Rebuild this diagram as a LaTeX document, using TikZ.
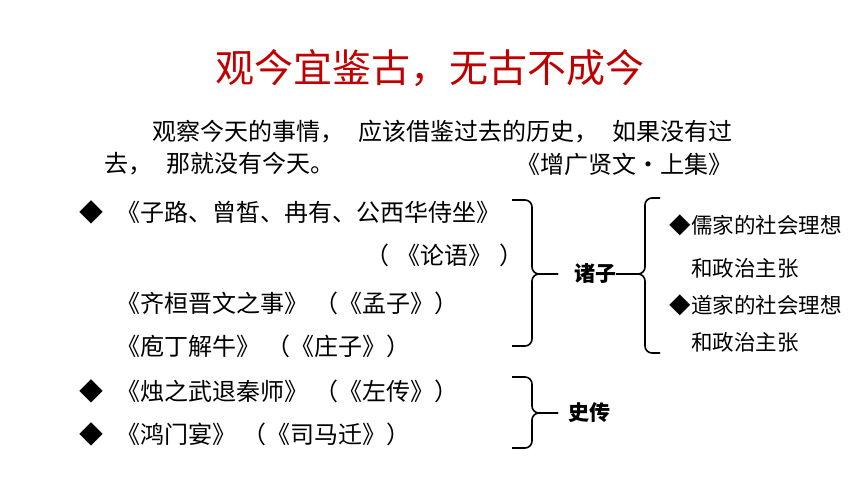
\documentclass[tikz,border=0pt]{standalone}
\usepackage{fontspec}
\usepackage{xcolor}
\newfontfamily\cjk{Noto Sans CJK SC}[Kerning=Off]
\definecolor{titlered}{RGB}{192,0,0}
\newcommand{\pgap}{\hspace{.6em}}
\newcommand{\lgap}{\hspace{.25em}}

\begin{document}
\begin{tikzpicture}[x=1pt, y=-1pt,
  txt/.style={anchor=west, inner sep=0pt, font=\cjk\fontsize{24}{24}\selectfont},
  small/.style={anchor=west, inner sep=0pt, font=\cjk\fontsize{21.5}{21.5}\selectfont},
  head/.style={inner sep=0pt, font=\cjk\bfseries\fontsize{21}{21}\selectfont},
  bracepath/.style={line width=1.6pt, rounded corners=7pt}]
\useasboundingbox (0,0) rectangle (860,484);
%%%%% Title %%%%%
\node[inner sep=0pt, text=titlered, font=\cjk\fontsize{39}{39}\selectfont] (title) at (430,68) {观今宜鉴古，无古不成今};
\node[txt] (para1) at (152,132) {观察今天的事情，\pgap 应该借鉴过去的历史，\pgap 如果没有过};
\node[txt] (para2) at (104,164) {去，\pgap 那就没有今天。};
\node[txt, anchor=east] (src) at (733,164) {《增广贤文·上集》};
%%%%% Left list %%%%%
\foreach \y in {212,391,434}{
\node[txt, anchor=center] (dl\y) at (91,\y) {◆};
}
\node[txt] (r1) at (116,212) {《子路、曾皙、冉有、公西华侍坐》};
\node[txt] (r2) at (365,255) {（\hspace{.3em}《论语》\hspace{.3em}）};
\node[txt] (r3) at (116,303) {《齐桓晋文之事》\lgap（《孟子》）};
\node[txt] (r4) at (116,346) {《庖丁解牛》\lgap（《庄子》）};
\node[txt] (r5) at (116,391) {《烛之武退秦师》\lgap（《左传》）};
\node[txt] (r6) at (116,434) {《鸿门宴》\lgap（《司马迁》）};
%%%%% Braces %%%%%
\node[head] (zhuzi) at (595,274) {诸子};
\node[head] (shizhuan) at (589,413) {史传};
\coordinate (tipa) at (558,274);
\coordinate (tipb) at (558,413);
\draw[bracepath] (512,200) -| (532,274) -- (tipa);
\draw[bracepath] (512,346) -| (532,274) -- (tipa);
\draw[bracepath] (512,377) -| (532,413) -- (tipb);
\draw[bracepath] (512,448) -| (532,413) -- (tipb);
\draw[bracepath] (660,198) -| (645,274) -- (zhuzi.east);
\draw[bracepath] (660,353) -| (645,274) -- (zhuzi.east);
%%%%% Right list %%%%%
\foreach \y in {225,305}{
\node[small, anchor=center] (dr\y) at (680,\y) {◆};
}
\node[small] (s1) at (691,225) {儒家的社会理想};
\node[small] (s2) at (691,268) {和政治主张};
\node[small] (s3) at (691,305) {道家的社会理想};
\node[small] (s4) at (691,342) {和政治主张};
\end{tikzpicture}
\end{document}
